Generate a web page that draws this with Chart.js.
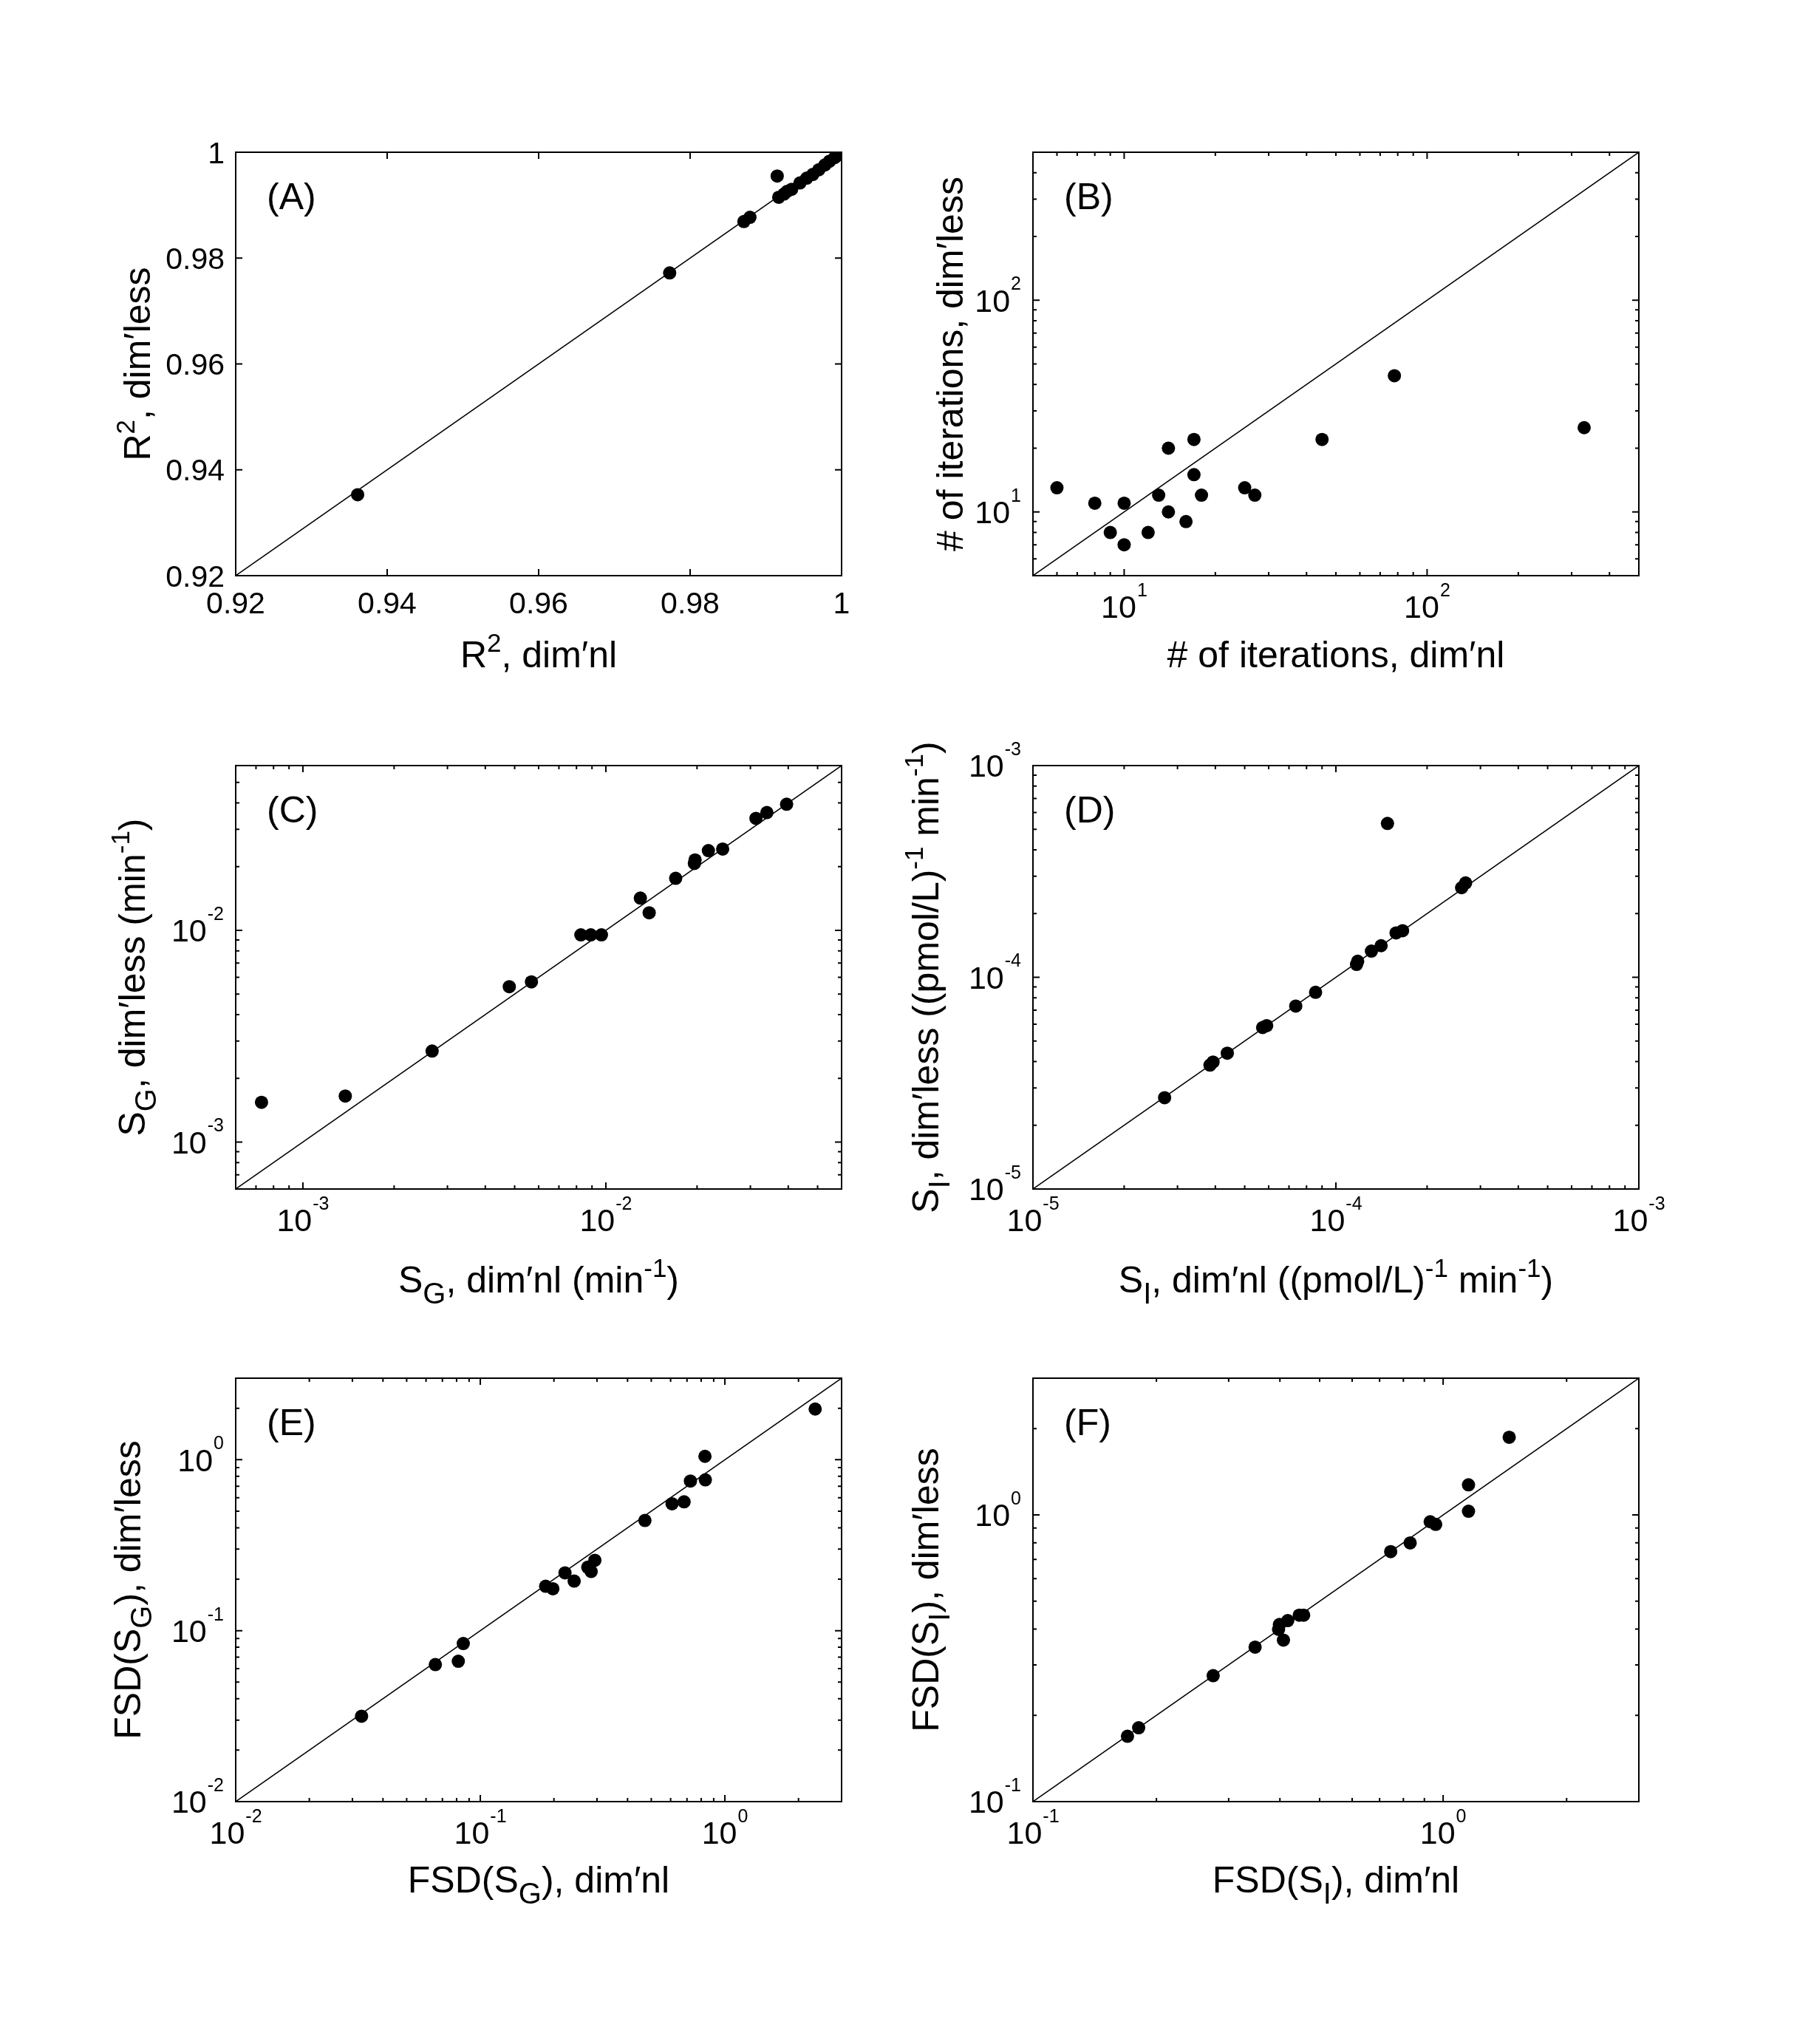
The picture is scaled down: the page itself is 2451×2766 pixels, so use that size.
<!DOCTYPE html>
<html>
<head>
<meta charset="utf-8">
<script src="https://cdn.jsdelivr.net/npm/chart.js@4.4.1/dist/chart.umd.min.js"></script>
<style>
  html, body { margin: 0; padding: 0; background: #fff; }
  #page { position: relative; width: 2451px; height: 2766px; background: #fff; overflow: hidden; }
  #page canvas { position: absolute; }
</style>
</head>
<body>
<div id="page"></div>
<script>
/* (A) R^2 */
const rangeA = [0.92, 1];
const ticksA = [0.92, 0.94, 0.96, 0.98, 1];
const tickLabelsA = ['0.92', '0.94', '0.96', '0.98', '1'];
const r2Nl   = [0.9361, 0.9773, 0.9871, 0.9879, 0.9915, 0.9917, 0.9924, 0.9928, 0.9934, 0.9945, 0.9954, 0.9962, 0.9970, 0.9978, 0.9984, 0.9991, 0.9996, 0.9999];
const r2Less = [0.9353, 0.9772, 0.9869, 0.9877, 0.9955, 0.9915, 0.9921, 0.9926, 0.9930, 0.9942, 0.9951, 0.9958, 0.9967, 0.9976, 0.9983, 0.9990, 0.9995, 0.9998];

/* (B) # of iterations */
const rangeB = [5, 500];
const expB = [1, 2];
const iterNl   = [6, 8, 9, 10, 10, 12, 13, 14, 14, 16, 17, 17, 18, 25, 27, 45, 78, 330];
const iterLess = [13, 11, 8, 11, 7, 8, 12, 10, 20, 9, 22, 15, 12, 13, 12, 22, 44, 25];

/* (C) S_G */
const rangeC = [6e-4, 6e-2];
const expC = [-3, -2];
const sgNl   = [0.00073, 0.00138, 0.00267, 0.0048, 0.00568, 0.00827, 0.00892, 0.00967, 0.0130, 0.0139, 0.0170, 0.0196, 0.0197, 0.0218, 0.0243, 0.0313, 0.0340, 0.0395];
const sgLess = [0.00154, 0.00165, 0.00269, 0.00542, 0.00571, 0.00952, 0.00952, 0.00952, 0.0142, 0.0121, 0.0176, 0.0207, 0.0215, 0.0238, 0.0242, 0.0338, 0.0360, 0.0394];

/* (D) S_I */
const rangeD = [1e-5, 1e-3];
const expD = [-5, -4, -3];
const siNl   = [2.72e-5, 3.84e-5, 3.93e-5, 4.38e-5, 5.73e-5, 5.91e-5, 7.37e-5, 8.57e-5, 1.17e-4, 1.18e-4, 1.31e-4, 1.41e-4, 1.48e-4, 1.58e-4, 1.66e-4, 2.60e-4, 2.68e-4];
const siLess = [2.70e-5, 3.85e-5, 3.98e-5, 4.38e-5, 5.79e-5, 5.91e-5, 7.31e-5, 8.49e-5, 1.15e-4, 1.19e-4, 1.33e-4, 1.41e-4, 5.33e-4, 1.62e-4, 1.66e-4, 2.65e-4, 2.79e-4];

/* (E) FSD(S_G) */
const rangeE = [0.01, 3];
const expE = [-2, -1, 0];
const fsdGNl   = [0.0327, 0.0655, 0.0813, 0.0852, 0.185, 0.198, 0.222, 0.242, 0.275, 0.284, 0.294, 0.471, 0.608, 0.681, 0.723, 0.829, 0.832, 2.34];
const fsdGLess = [0.0316, 0.0633, 0.0662, 0.0841, 0.182, 0.176, 0.218, 0.195, 0.235, 0.222, 0.258, 0.441, 0.553, 0.567, 0.751, 1.047, 0.763, 1.98];

/* (F) FSD(S_I) */
const rangeF = [0.1, 3];
const expF = [-1, 0];
const fsdINl   = [0.170, 0.181, 0.275, 0.348, 0.397, 0.399, 0.408, 0.418, 0.446, 0.457, 0.745, 0.831, 0.930, 0.959, 1.153, 1.153, 1.449];
const fsdILess = [0.169, 0.181, 0.275, 0.346, 0.399, 0.415, 0.366, 0.428, 0.447, 0.447, 0.745, 0.799, 0.947, 0.927, 1.274, 1.03, 1.867];

const FONT = '"Liberation Sans", Arial, sans-serif';
const W = 820, H = 573;
const PAD = { left: 210, top: 50, right: 45, bottom: 180 };

// runs: [text, level]  level 1 = superscript, -1 = subscript
const panels = [
  { id: 'A', L: 319, T: 206, log: false, range: rangeA, xs: r2Nl, ys: r2Less, ticks: ticksA, labels: tickLabelsA,
    xTitle: [['R', 0], ['2', 1], [', dim\u2032nl', 0]], xTitleDy: 124,
    yTitle: [['R', 0], ['2', 1], [', dim\u2032less', 0]], yTitleX: 203 },
  { id: 'B', L: 1398, T: 206, log: true, range: rangeB, xs: iterNl, ys: iterLess, exps: expB,
    xTitle: [['# of iterations, dim\u2032nl', 0]], xTitleDy: 124,
    yTitle: [['# of iterations, dim\u2032less', 0]], yTitleX: 1303 },
  { id: 'C', L: 319, T: 1036, log: true, range: rangeC, xs: sgNl, ys: sgLess, exps: expC,
    xTitle: [['S', 0], ['G', -1], [', dim\u2032nl (min', 0], ['-1', 1], [')', 0]], xTitleDy: 140,
    yTitle: [['S', 0], ['G', -1], [', dim\u2032less (min', 0], ['-1', 1], [')', 0]], yTitleX: 196 },
  { id: 'D', L: 1398, T: 1036, log: true, range: rangeD, xs: siNl, ys: siLess, exps: expD,
    xTitle: [['S', 0], ['I', -1], [', dim\u2032nl ((pmol/L)', 0], ['-1', 1], [' min', 0], ['-1', 1], [')', 0]], xTitleDy: 140,
    yTitle: [['S', 0], ['I', -1], [', dim\u2032less ((pmol/L)', 0], ['-1', 1], [' min', 0], ['-1', 1], [')', 0]], yTitleX: 1270 },
  { id: 'E', L: 319, T: 1865, log: true, range: rangeE, xs: fsdGNl, ys: fsdGLess, exps: expE,
    xTitle: [['FSD(S', 0], ['G', -1], ['), dim\u2032nl', 0]], xTitleDy: 123,
    yTitle: [['FSD(S', 0], ['G', -1], ['), dim\u2032less', 0]], yTitleX: 190 },
  { id: 'F', L: 1398, T: 1865, log: true, range: rangeF, xs: fsdINl, ys: fsdILess, exps: expF,
    xTitle: [['FSD(S', 0], ['I', -1], ['), dim\u2032nl', 0]], xTitleDy: 123,
    yTitle: [['FSD(S', 0], ['I', -1], ['), dim\u2032less', 0]], yTitleX: 1270 }
];

function runFont(size, lv) {
  const s = lv === 1 ? size * 0.7 : lv === -1 ? size * 0.8 : size;
  return s + 'px ' + FONT;
}

function drawRich(ctx, runs, x, y, size) {
  let w = 0;
  runs.forEach(([t, lv]) => { ctx.font = runFont(size, lv); w += ctx.measureText(t).width; });
  let cx = x - w / 2;
  runs.forEach(([t, lv]) => {
    const dy = lv === 1 ? -0.42 * size : lv === -1 ? 0.3 * size : 0;
    ctx.font = runFont(size, lv);
    ctx.fillText(t, cx, y + dy);
    cx += ctx.measureText(t).width;
  });
}

// "10" with exponent; anchor: 'right' (y axis) or 'center' (x axis); y = baseline of "10"
function drawPow(ctx, e, x, y, anchor) {
  const base = '10', ex = String(e);
  ctx.font = '43px ' + FONT;
  const wb = ctx.measureText(base).width;
  ctx.font = '25px ' + FONT;
  const we = ctx.measureText(ex).width;
  const total = wb + 1 + we;
  const sx = anchor === 'right' ? x - total : x - total / 2;
  ctx.font = '43px ' + FONT;
  ctx.fillText(base, sx, y);
  ctx.font = '25px ' + FONT;
  ctx.fillText(ex, sx + wb + 1, y - 29.5);
}

function tickList(P) {
  if (!P.log) return P.ticks.map(v => [v, true]);
  const out = [];
  const [mn, mx] = P.range;
  for (let e = Math.floor(Math.log10(mn)); e <= Math.ceil(Math.log10(mx)); e++) {
    for (let m = 1; m < 10; m++) {
      const v = m * Math.pow(10, e);
      if (v >= mn * 0.9999 && v <= mx * 1.0001) out.push([v, m === 1]);
    }
  }
  return out;
}

const matlabAxes = {
  id: 'matlabAxes',
  afterDraw(chart) {
    const P = panels.find(p => 'panel' + p.id === chart.canvas.id);
    const ctx = chart.ctx;
    const a = chart.chartArea;
    const xs = chart.scales.x, ys = chart.scales.y;
    const ox = P.L - PAD.left;
    ctx.save();
    ctx.strokeStyle = '#000';
    ctx.fillStyle = '#000';
    ctx.lineWidth = 2;
    ctx.strokeRect(a.left, a.top, a.right - a.left, a.bottom - a.top);

    // inward ticks on all four sides
    tickList(P).forEach(([v, major]) => {
      const len = major ? 9 : 5;
      const px = xs.getPixelForValue(v);
      const py = ys.getPixelForValue(v);
      ctx.beginPath();
      ctx.moveTo(px, a.bottom); ctx.lineTo(px, a.bottom - len);
      ctx.moveTo(px, a.top); ctx.lineTo(px, a.top + len);
      ctx.moveTo(a.left, py); ctx.lineTo(a.left + len, py);
      ctx.moveTo(a.right, py); ctx.lineTo(a.right - len, py);
      ctx.stroke();
    });

    // tick labels
    ctx.textBaseline = 'alphabetic';
    ctx.textAlign = 'left';
    if (!P.log) {
      ctx.font = '41px ' + FONT;
      P.ticks.forEach((v, i) => {
        const t = P.labels[i];
        const tw = ctx.measureText(t).width;
        ctx.fillText(t, xs.getPixelForValue(v) - tw / 2, a.bottom + 51);
        ctx.fillText(t, a.left - 15 - tw, ys.getPixelForValue(v) + 14.5);
      });
    } else {
      P.exps.forEach(e => {
        const v = Math.pow(10, e);
        drawPow(ctx, e, xs.getPixelForValue(v), a.bottom + 57, 'center');
        drawPow(ctx, e, a.left - 16, ys.getPixelForValue(v) + 15.4, 'right');
      });
    }

    // panel letter
    ctx.font = '50px ' + FONT;
    ctx.fillText('(' + P.id + ')', a.left + 42, a.top + 77);

    // axis titles
    drawRich(ctx, P.xTitle, (a.left + a.right) / 2, a.bottom + P.xTitleDy, 50);
    ctx.translate(P.yTitleX - ox, (a.top + a.bottom) / 2);
    ctx.rotate(-Math.PI / 2);
    drawRich(ctx, P.yTitle, 0, 0, 50);
    ctx.restore();
  }
};

const page = document.getElementById('page');
panels.forEach(P => {
  const cv = document.createElement('canvas');
  cv.id = 'panel' + P.id;
  const cw = W + PAD.left + PAD.right, ch = H + PAD.top + PAD.bottom;
  cv.width = cw; cv.height = ch;
  cv.style.width = cw + 'px'; cv.style.height = ch + 'px';
  cv.style.left = (P.L - PAD.left) + 'px';
  cv.style.top = (P.T - PAD.top) + 'px';
  page.appendChild(cv);

  const pts = P.xs.map((x, i) => ({ x: x, y: P.ys[i] }));
  const diag = [{ x: P.range[0], y: P.range[0] }, { x: P.range[1], y: P.range[1] }];
  const axisType = P.log ? 'logarithmic' : 'linear';

  new Chart(cv.getContext('2d'), {
    type: 'scatter',
    data: {
      datasets: [{
        label: 'points',
        data: pts,
        pointRadius: 9,
        pointBackgroundColor: '#000',
        pointBorderWidth: 0,
        backgroundColor: '#000',
        borderColor: '#000',
        order: 0
      }, {
        label: 'y = x',
        data: diag,
        showLine: true,
        pointRadius: 0,
        borderColor: '#000',
        borderWidth: 1.5,
        order: 1
      }]
    },
    options: {
      responsive: false,
      animation: false,
      devicePixelRatio: 1,
      events: [],
      layout: { padding: PAD },
      plugins: {
        legend: { display: false },
        tooltip: { enabled: false }
      },
      scales: {
        x: { type: axisType, min: P.range[0], max: P.range[1], bounds: 'data', display: false },
        y: { type: axisType, min: P.range[0], max: P.range[1], bounds: 'data', display: false }
      }
    },
    plugins: [matlabAxes]
  });
});
</script>
</body>
</html>
